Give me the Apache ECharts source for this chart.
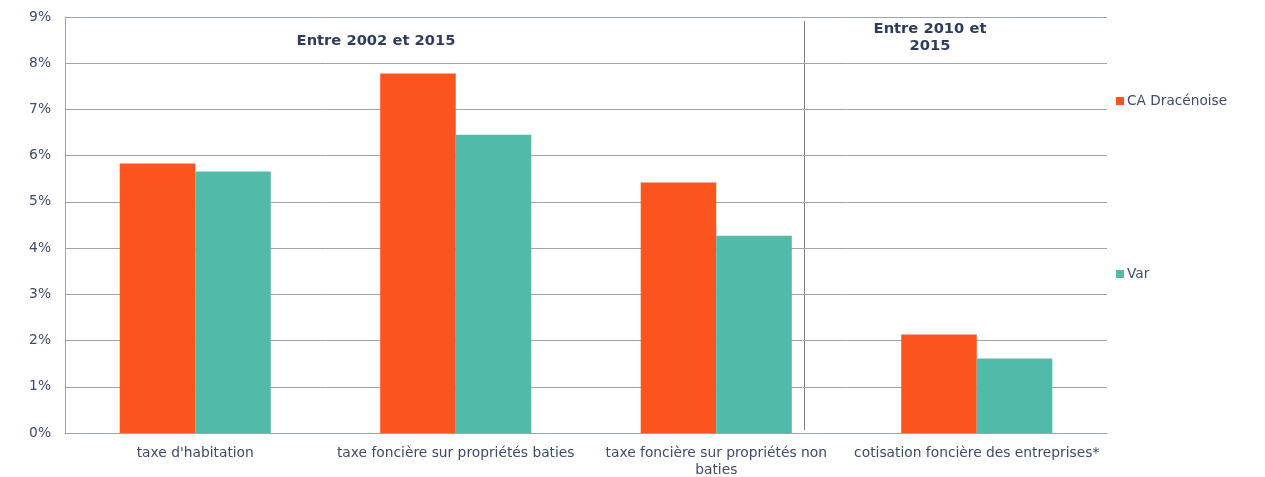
<!DOCTYPE html>
<html>
<head>
<meta charset="utf-8">
<script src="https://cdn.jsdelivr.net/npm/echarts@6/dist/echarts.min.js"></script>
<style>
  html, body { margin: 0; padding: 0; background: #fff; }
  #chart { width: 1265px; height: 477px; }
</style>
</head>
<body>
<div id="chart"></div>
<script>
// Taux d'évolution annuel moyen des taux d'imposition
const categories = [
  "taxe d'habitation",
  "taxe foncière sur propriétés baties",
  "taxe foncière sur propriétés non\nbaties",
  "cotisation foncière des entreprises*"
];
const caDracenoise = [5.83, 7.78, 5.42, 2.13];
const varDept = [5.66, 6.45, 4.27, 1.61];
const yTicks = [0, 1, 2, 3, 4, 5, 6, 7, 8, 9];

const textColor = '#3d4a6b';
const titleColor = '#2e3d5f';
const gridColor = '#9ea3b3';
const fontFamily = 'Verdana, "DejaVu Sans", sans-serif';

const chart = echarts.init(document.getElementById('chart'));
chart.setOption({
  animation: false,
  textStyle: { fontFamily: fontFamily },
  grid: { left: 65, right: 158, top: 17, bottom: 44, containLabel: false, outerBoundsMode: 'none' },
  legend: [
    {
      data: ['CA Dracénoise'], left: 1111, top: 89, orient: 'vertical',
      itemWidth: 8, itemHeight: 8, itemGap: 4, icon: 'rect',
      textStyle: { color: textColor, fontSize: 13.7, fontFamily: fontFamily, padding: [0, 0, 0, -2] }
    },
    {
      data: ['Var'], left: 1111, top: 262, orient: 'vertical',
      itemWidth: 8, itemHeight: 8, itemGap: 4, icon: 'rect',
      textStyle: { color: textColor, fontSize: 13.7, fontFamily: fontFamily, padding: [0, 0, 0, -2] }
    }
  ],
  xAxis: {
    type: 'category',
    data: categories,
    axisTick: { show: false },
    axisLine: { lineStyle: { color: gridColor, width: 1 } },
    axisLabel: { color: textColor, fontSize: 13.8, margin: 12, lineHeight: 17, interval: 0 }
  },
  yAxis: {
    type: 'value',
    min: yTicks[0],
    max: yTicks[yTicks.length - 1],
    interval: 1,
    axisLine: { show: true, lineStyle: { color: gridColor, width: 1 } },
    axisTick: { show: false },
    splitLine: { lineStyle: { color: gridColor, width: 1 } },
    axisLabel: { color: textColor, fontSize: 13.8, margin: 14, formatter: v => v + '%' }
  },
  series: [
    {
      name: 'CA Dracénoise', type: 'bar', data: caDracenoise,
      itemStyle: { color: '#fc541f' },
      barGap: '0%', barCategoryGap: '42%'
    },
    {
      name: 'Var', type: 'bar', data: varDept,
      itemStyle: { color: '#52baa8' }
    }
  ],
  graphic: [
    {
      type: 'line', shape: { x1: 804.5, y1: 21, x2: 804.5, y2: 430 },
      style: { stroke: '#7f7f7f', lineWidth: 1 }, silent: true
    },
    {
      type: 'text', x: 376, y: 41,
      style: {
        text: 'Entre 2002 et 2015', fill: titleColor, fontSize: 14.7, fontWeight: 'bold',
        fontFamily: fontFamily, align: 'center', verticalAlign: 'middle'
      }
    },
    {
      type: 'text', x: 930, y: 37.5,
      style: {
        text: 'Entre 2010 et\n2015', fill: titleColor, fontSize: 14.7, fontWeight: 'bold',
        fontFamily: fontFamily, align: 'center', verticalAlign: 'middle', lineHeight: 17
      }
    }
  ]
});
</script>
</body>
</html>
